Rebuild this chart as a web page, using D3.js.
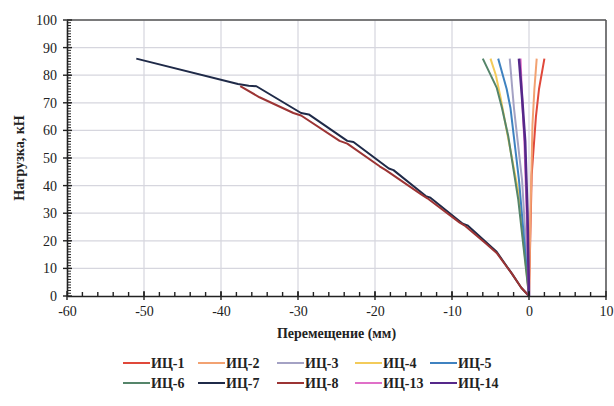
<!DOCTYPE html>
<html>
<head>
<meta charset="utf-8">
<script src="https://cdn.jsdelivr.net/npm/d3@7"></script>
<style>
body{margin:0;background:#fff;}
svg text{font-family:'Liberation Serif','Times New Roman',serif;fill:#222;}
</style>
</head>
<body>
<div id="chart"></div>
<script>
// displacement (mm) / load (kN) per specimen
var seriesNames = ["ИЦ-1","ИЦ-2","ИЦ-3","ИЦ-4","ИЦ-5","ИЦ-6","ИЦ-7","ИЦ-8","ИЦ-13","ИЦ-14"];
var seriesColors = ["#e0483a","#f2a272","#a4a2c4","#f3cb5a","#3f82c0","#55856a","#1f2a48","#9c3434","#e070c8","#55288a"];

var s1 = [[0,0],[0.35,44],[0.9,65],[1.3,75],[2,86]];
var s2 = [[0,0],[0.2,30],[0.45,62],[0.7,75],[1,86]];
var s3 = [[0,0],[-0.9,42],[-1.95,68],[-2.2,76],[-2.5,86]];
var s4 = [[0,0],[-1.4,38],[-2.9,60],[-3.7,72],[-4.3,80],[-5,86]];
var s5 = [[0,0],[-1.3,42],[-2.4,68],[-2.9,75],[-3.3,79],[-4,86]];
var s6 = [[0,0],[-1.4,35],[-2.7,58],[-3.5,68],[-4.2,75.5],[-6,86]];
var s7 = [[0,0],[-1,3],[-2.2,8],[-4.2,16],[-8,25.6],[-8.6,26.2],[-12.8,35.6],[-13.4,36.2],
          [-17.6,45.6],[-18.2,46.2],[-22.8,55.8],[-23.6,56.2],[-28.6,65.8],[-29.6,66.3],
          [-35.4,76],[-36.4,76.2],[-37.8,76.8],[-51,86]];
var s8 = [[0,0],[-1,3],[-2.2,8],[-4.2,15.6],[-5.6,19],[-8.4,25.6],[-9,26.6],[-13.2,35.4],
          [-14,36.8],[-18.6,45.6],[-19.4,47],[-23.6,55.2],[-24.6,56.2],[-29.6,65.4],
          [-30.6,66.3],[-35,72],[-37.5,76]];
var s13 = [[0,0],[-0.3,30],[-0.6,56],[-0.9,72],[-1.1,86]];
var s14 = [[0,0],[-0.2,30],[-0.5,56],[-0.9,72],[-1.3,86]];
var seriesData = [s1,s2,s3,s4,s5,s6,s7,s8,s13,s14];

var xTicks = [-60,-50,-40,-30,-20,-10,0,10];
var yTicks = [0,10,20,30,40,50,60,70,80,90,100];

var W = 614, H = 406;
var pLeft = 67, pRight = 606, pTop = 20, pBottom = 296;

var svg = d3.select("#chart").append("svg").attr("width",W).attr("height",H);

var x = d3.scaleLinear().domain([-60,10]).range([pLeft,pRight]);
var y = d3.scaleLinear().domain([0,100]).range([pBottom,pTop]);

// grid
svg.append("g").selectAll("line")
    .data(xTicks.slice(1))
    .enter().append("line")
    .attr("x1",function(d){return x(d);}).attr("x2",function(d){return x(d);})
    .attr("y1",pTop).attr("y2",pBottom)
    .attr("stroke","#d6d6de").attr("stroke-width",1.2);
svg.append("g").selectAll("line")
    .data(yTicks.slice(1))
    .enter().append("line")
    .attr("x1",pLeft).attr("x2",pRight)
    .attr("y1",function(d){return y(d);}).attr("y2",function(d){return y(d);})
    .attr("stroke","#d6d6de").attr("stroke-width",1.2);

// frame top/right
svg.append("line").attr("x1",pLeft).attr("x2",pRight).attr("y1",pTop).attr("y2",pTop)
    .attr("stroke","#555").attr("stroke-width",1.5);
svg.append("line").attr("x1",pRight).attr("x2",pRight).attr("y1",pTop).attr("y2",pBottom)
    .attr("stroke","#555").attr("stroke-width",1.5);

// series
var line = d3.line().x(function(d){return x(d[0]);}).y(function(d){return y(d[1]);});
svg.append("g").selectAll("path")
    .data(seriesData)
    .enter().append("path")
    .attr("d",line)
    .attr("fill","none")
    .attr("stroke",function(d,i){return seriesColors[i];})
    .attr("stroke-width",function(d,i){return i==9 ? 2.6 : 2;})
    .attr("stroke-linejoin","round");

// axes
var fmt = function(d){return String(d);};
var xAxis = d3.axisBottom(x).tickValues(xTicks).tickFormat(fmt).tickSize(0).tickPadding(10);
var gx = svg.append("g").attr("transform","translate(0,"+pBottom+")").call(xAxis);
gx.attr("font-family",null);
gx.select(".domain").attr("stroke","#222").attr("stroke-width",1.6);
gx.selectAll("text").attr("font-size","14px").attr("fill","#222");

var yAxis = d3.axisLeft(y).tickValues(yTicks).tickFormat(fmt).tickSize(0).tickPadding(10);
var gy = svg.append("g").attr("transform","translate("+pLeft+",0)").call(yAxis);
gy.attr("font-family",null);
gy.select(".domain").attr("stroke","#222").attr("stroke-width",1.6);
gy.selectAll("text").attr("font-size","14px").attr("fill","#222");

// minor and major tick marks
svg.append("g").selectAll("line")
    .data(d3.range(-58,10,2))
    .enter().append("line")
    .attr("x1",function(d){return x(d);}).attr("x2",function(d){return x(d);})
    .attr("y1",pBottom).attr("y2",pBottom-4)
    .attr("stroke","#222").attr("stroke-width",1.4);
svg.append("g").selectAll("line")
    .data(xTicks)
    .enter().append("line")
    .attr("x1",function(d){return x(d);}).attr("x2",function(d){return x(d);})
    .attr("y1",pBottom-5).attr("y2",pBottom+4)
    .attr("stroke","#222").attr("stroke-width",1.4);
svg.append("g").selectAll("line")
    .data(d3.range(1,100,1))
    .enter().append("line")
    .attr("x1",pLeft).attr("x2",pLeft+4)
    .attr("y1",function(d){return y(d);}).attr("y2",function(d){return y(d);})
    .attr("stroke","#222").attr("stroke-width",1);
svg.append("g").selectAll("line")
    .data(yTicks)
    .enter().append("line")
    .attr("x1",pLeft-4).attr("x2",pLeft+5)
    .attr("y1",function(d){return y(d);}).attr("y2",function(d){return y(d);})
    .attr("stroke","#222").attr("stroke-width",1.4);

// titles
svg.append("text")
    .text("Перемещение (мм)")
    .attr("x",(pLeft+pRight)/2).attr("y",338)
    .attr("text-anchor","middle")
    .attr("font-size","14px").attr("font-weight","bold");
svg.append("text")
    .text("Нагрузка, кН")
    .attr("transform","translate(24,"+((pTop+pBottom)/2)+") rotate(-90)")
    .attr("text-anchor","middle")
    .attr("font-size","14px").attr("font-weight","bold");

// legend
var legendX = [123,198,277,355,430];
var legend = svg.append("g").selectAll("g")
    .data(seriesNames)
    .enter().append("g")
    .attr("transform",function(d,i){
        return "translate("+legendX[i%5]+","+(i<5 ? 363 : 383)+")";
    });
legend.append("line")
    .attr("x1",0).attr("x2",27).attr("y1",0).attr("y2",0)
    .attr("stroke",function(d,i){return seriesColors[i];})
    .attr("stroke-width",2);
legend.append("text")
    .text(function(d){return d;})
    .attr("x",28).attr("y",5)
    .attr("font-size","14px").attr("font-weight","bold");
</script>
</body>
</html>
